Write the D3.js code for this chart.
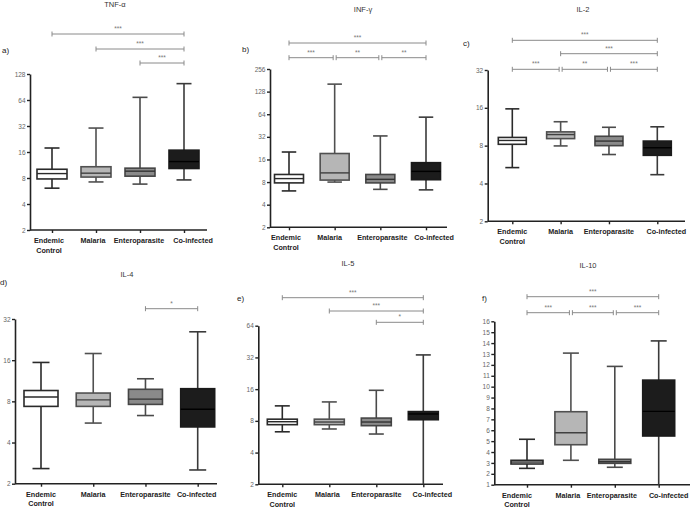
<!DOCTYPE html>
<html><head><meta charset="utf-8">
<script src="https://cdn.jsdelivr.net/npm/d3@7"></script>
<style>
html,body{margin:0;padding:0;background:#fff;}
svg{display:block;font-family:"Liberation Sans",Arial,sans-serif;}
</style></head>
<body><svg id="c" width="690" height="509"></svg>
<script>
// ---------- DATA ----------
const categories = ["Endemic Control","Malaria","Enteroparasite","Co-infected"];
const categoryLabels = [["Endemic","Control"],["Malaria"],["Enteroparasite"],["Co-infected"]];
// five-number summaries per category: [min, q1, median, q3, max]
const tnfAlpha = [[6.1,7.8,9.0,10.1,17.8],[7.2,8.2,9.1,10.8,30.3],[6.8,8.4,9.6,10.4,68.7],[7.6,10.3,12.4,16.8,99]];
const infGamma = [[6.1,7.8,8.9,10.1,20.1],[8.0,8.5,10.6,19.2,161],[6.4,7.8,8.7,10.1,32.9],[6.3,8.6,11.1,14.5,58.5]];
const il2 = [[5.35,8.2,8.8,9.3,15.7],[7.96,9.1,9.8,10.3,12.4],[6.8,8.0,8.7,9.5,11.2],[4.7,6.7,7.7,8.7,11.3]];
const il4 = [[2.58,7.35,8.6,9.6,15.4],[5.55,7.35,8.2,9.2,17.9],[6.3,7.6,8.3,9.8,11.7],[2.52,5.2,7.0,9.9,25.8]];
const il5 = [[6.3,7.36,7.85,8.3,11.1],[6.7,7.36,7.8,8.3,12.1],[6.0,7.2,7.8,8.5,15.6],[2,8.2,9.3,9.8,33.8]];
const il10 = [[2.5,2.9,3.08,3.24,5.17],[3.24,4.67,5.77,7.7,13.08],[2.6,2.96,3.11,3.33,11.86],[1,5.47,7.73,10.6,14.2]];
// tick labels
const tnfTicks = [2,4,8,16,32,64,128];
const infTicks = [2,4,8,16,32,64,128,256];
const il2Ticks = [2,4,8,16,32];
const il4Ticks = [2,4,8,16,32];
const il5Ticks = [2,4,8,16,32,64];
const il10Ticks = [1,2,3,4,5,6,7,8,9,10,11,12,13,14,15,16];
// significance comparisons: [from category, to category, label]
const tnfSig = [[0,3,"***"],[1,3,"***"],[2,3,"***"]];
const infSig = [[0,3,"***"],[0,1,"***"],[1,2,"**"],[2,3,"**"]];
const il2Sig = [[0,3,"***"],[1,3,"***"],[0,1,"***"],[1,2,"**"],[2,3,"***"]];
const il4Sig = [[2,3,"*"]];
const il5Sig = [[0,3,"***"],[1,3,"***"],[2,3,"*"]];
const il10Sig = [[0,3,"***"],[0,1,"***"],[1,2,"***"],[2,3,"***"]];
const titles = ["TNF-α","INF-γ","IL-2","IL-4","IL-5","IL-10"];
const letters = ["a)","b)","c)","d)","e)","f)"];

// ---------- LAYOUT ----------
const panels = [
  {data:tnfAlpha, ticks:tnfTicks, sig:tnfSig, log:true, ax:30, yTop:74, yBot:230, x0:52, x1:184, xEnd:207, bw:30,
   sigY:[34,49,63], title:[115,7], letter:[2,53], labelDx:[-3,-3,-1,9]},
  {data:infGamma, ticks:infTicks, sig:infSig, log:true, ax:270, yTop:69, yBot:227.3, x0:289, x1:426, xEnd:447, bw:29,
   sigY:[43,57.7,57.7,57.7], title:[363,12], letter:[242,52], labelDx:[-3,-5,2,8]},
  {data:il2, ticks:il2Ticks, sig:il2Sig, log:true, ax:487.7, yTop:70, yBot:221.3, x0:512.3, x1:657.3, xEnd:685, bw:28,
   sigY:[40.3,53.7,69.3,69.3,69.3], title:[583,12], letter:[463,45.5], labelDx:[0,0,0,9]},
  {data:il4, ticks:il4Ticks, sig:il4Sig, log:true, ax:15, yTop:319, yBot:483.7, x0:41, x1:197.7, xEnd:217, bw:34,
   sigY:[308.7], title:[127,277], letter:[0,285], labelDx:[0,0,0,-1]},
  {data:il5, ticks:il5Ticks, sig:il5Sig, log:true, ax:258.3, yTop:325.7, yBot:484.3, x0:282.3, x1:423.3, xEnd:443, bw:30,
   sigY:[297.7,311,322.3], title:[348,265.5], letter:[237,300.5], labelDx:[0,-2,0,9]},
  {data:il10, ticks:il10Ticks, sig:il10Sig, log:false, ax:494.3, yTop:321.3, yBot:484.7, x0:527, x1:658.7, xEnd:690, bw:32,
   sigY:[296.7,312.7,312.7,312.7], title:[588,268], letter:[482,300.5], labelDx:[-10,-3,-3,10]}
];
const fills = ["#ffffff","#b6b6b6","#8a8a8a","#1c1c1c"];
const strokes = ["#2a2a2a","#505050","#454545","#1a1a1a"];
const whisk = ["#2a2a2a","#505050","#4a4a4a","#3a3a3a"];
const medCol = ["#2a2a2a","#404040","#333333","#000000"];

const svg = d3.select("#c");

// keep "Enteroparasite" at ~52px wide like the reference
const probe = svg.append("text").attr("font-size",7.2).attr("font-weight","bold").text("Enteroparasite");
const squeeze = Math.min(1, 52 / probe.node().getComputedTextLength());
probe.remove();

panels.forEach((p,i)=>{
  const g = svg.append("g");
  const tmin = p.ticks[0], tmax = p.ticks[p.ticks.length-1];
  const y = p.log ? d3.scaleLog().base(2).domain([tmin,tmax]).range([p.yBot,p.yTop])
                  : d3.scaleLinear().domain([tmin,tmax]).range([p.yBot,p.yTop]);
  const x = d3.scalePoint().domain(categories).range([p.x0,p.x1]);

  // title & letter
  g.append("text").attr("x",p.title[0]).attr("y",p.title[1]).attr("text-anchor","middle")
    .attr("font-size",7.5).attr("fill","#333").text(titles[i]);
  g.append("text").attr("x",p.letter[0]).attr("y",p.letter[1])
    .attr("font-size",8).attr("fill","#222").text(letters[i]);

  // y axis
  const yAxis = d3.axisLeft(y).tickValues(p.ticks).tickFormat(d3.format("d")).tickSize(3).tickSizeOuter(0).tickPadding(1.5);
  const ya = g.append("g").attr("transform",`translate(${p.ax},0)`).call(yAxis);
  ya.select(".domain").attr("stroke","#222").attr("stroke-width",1.6);
  ya.selectAll(".tick line").attr("stroke","#222").attr("stroke-width",1.4);
  ya.selectAll(".tick text").attr("font-size",6.5).attr("fill","#666").attr("font-family","Liberation Sans, Arial, sans-serif");

  // x axis
  g.append("line").attr("x1",p.ax).attr("x2",p.xEnd).attr("y1",p.yBot).attr("y2",p.yBot)
    .attr("stroke","#222").attr("stroke-width",1.6);
  const xAxis = d3.axisBottom(x).tickSize(3).tickFormat("");
  const xa = g.append("g").attr("transform",`translate(0,${p.yBot})`).call(xAxis);
  xa.select(".domain").remove();
  xa.selectAll(".tick line").attr("stroke","#222").attr("stroke-width",1.4);
  categories.forEach((c,k)=>{
    categoryLabels[k].forEach((ln,j)=>{
      const t = g.append("text").attr("x",x(c)+p.labelDx[k]).attr("y",p.yBot+13+j*9.5).attr("text-anchor","middle")
        .attr("font-size",7.2).attr("font-weight","bold").attr("fill","#222").text(ln);
      const w = t.node().getComputedTextLength();
      if (squeeze < 1) t.attr("textLength",w*squeeze).attr("lengthAdjust","spacingAndGlyphs");
    });
  });

  // boxes
  p.data.forEach((d,k)=>{
    const cx = x(categories[k]);
    const bw = p.bw, cap = bw*0.5;
    const [mn,q1,md,q3,mx] = d;
    g.append("line").attr("x1",cx).attr("x2",cx).attr("y1",y(mx)).attr("y2",y(q3))
      .attr("stroke",whisk[k]).attr("stroke-width",1.6);
    g.append("line").attr("x1",cx).attr("x2",cx).attr("y1",y(q1)).attr("y2",y(mn))
      .attr("stroke",whisk[k]).attr("stroke-width",1.6);
    [mx,mn].forEach(v=>{
      if (v>tmin) g.append("line").attr("x1",cx-cap/2).attr("x2",cx+cap/2).attr("y1",y(v)).attr("y2",y(v))
        .attr("stroke",whisk[k]).attr("stroke-width",1.6);
    });
    g.append("rect").attr("x",cx-bw/2).attr("y",y(q3)).attr("width",bw).attr("height",y(q1)-y(q3))
      .attr("fill",fills[k]).attr("stroke",strokes[k]).attr("stroke-width",1.6);
    g.append("line").attr("x1",cx-bw/2).attr("x2",cx+bw/2).attr("y1",y(md)).attr("y2",y(md))
      .attr("stroke",medCol[k]).attr("stroke-width",1.4);
  });

  // significance bars
  p.sig.forEach((s,k)=>{
    const sy = p.sigY[k];
    const shared = p.sig.filter((o,m)=>m!==k && p.sigY[m]===sy);
    let xa0 = x(categories[s[0]]), xa1 = x(categories[s[1]]);
    if (shared.some(o=>o[1]===s[0])) xa0 += 1.5;
    if (shared.some(o=>o[0]===s[1])) xa1 -= 1.5;
    const col = "#8a8a8a";
    g.append("line").attr("x1",xa0).attr("x2",xa1).attr("y1",sy).attr("y2",sy).attr("stroke",col).attr("stroke-width",1);
    [xa0,xa1].forEach(xx=>g.append("line").attr("x1",xx).attr("x2",xx).attr("y1",sy-2.5).attr("y2",sy+2.5)
      .attr("stroke",col).attr("stroke-width",1));
    g.append("text").attr("x",(xa0+xa1)/2).attr("y",sy-3).attr("text-anchor","middle")
      .attr("font-size",6.5).attr("fill","#777").text(s[2]);
  });
});
</script>
</body></html>
